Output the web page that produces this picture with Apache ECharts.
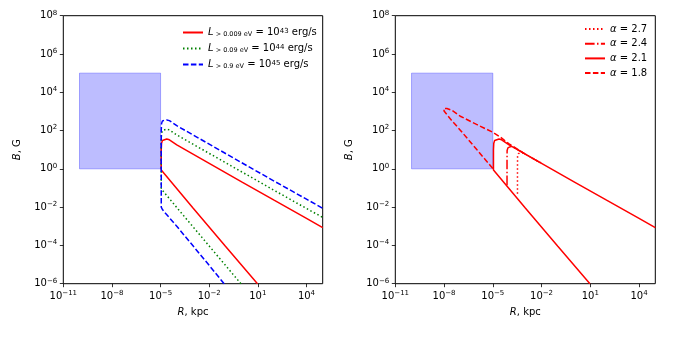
<!DOCTYPE html>
<html>
<head>
<meta charset="utf-8">
<script src="https://cdn.jsdelivr.net/npm/echarts@6/dist/echarts.min.js"></script>
<style>
  html, body { margin: 0; padding: 0; background: #fff; }
  #chart { width: 675px; height: 338px; }
</style>
</head>
<body>
<div id="chart"></div>
<script>
// tick positions
const xTicks = [1e-11, 1e-8, 1e-5, 1e-2, 1e1, 1e4];
const yTicks = [1e-6, 1e-4, 1e-2, 1e0, 1e2, 1e4, 1e6, 1e8];

// shaded region
const boxR = [1e-10, 1e-5];
const boxB = [1, 1e5];

// left panel: L > 0.009 eV = 1e43 erg/s
const rL43 = [9.5, 1e-1, 1e-3, 1.1e-5, 1.1e-5, 1.15e-5, 1.3e-5, 1.7e-5, 2.4e-5, 3.5e-5, 1e-4, 1e-3, 1e-2, 1, 100, 1e4, 1e5];
const bL43 = [1e-6, 9e-5, 9e-3, 0.88, 10, 22, 30, 35, 36, 33, 17.8, 5.9, 1.95, 0.21, 0.023, 2.6e-3, 8.5e-4];
// L > 0.09 eV = 1e44 erg/s
const rL44 = [0.9, 1e-2, 1e-4, 1.1e-5, 1.1e-5, 1.15e-5, 1.3e-5, 1.7e-5, 2.4e-5, 3.5e-5, 1e-4, 1e-3, 1e-2, 1, 100, 1e4, 1e5];
const bL44 = [1e-6, 9.3e-5, 9.5e-3, 0.09, 32, 72, 100, 115, 118, 108, 59, 19.5, 6.4, 0.7, 0.076, 8.5e-3, 2.9e-3];
// L > 0.9 eV = 1e45 erg/s
const rL45 = [0.083, 1e-2, 1e-3, 1e-4, 2e-5, 1.3e-5, 1.1e-5, 1.1e-5, 1.15e-5, 1.3e-5, 1.7e-5, 2.4e-5, 3.5e-5, 1e-4, 1e-3, 1e-2, 1, 100, 1e4, 1e5];
const bL45 = [1e-6, 9e-6, 9.5e-5, 1e-3, 4.8e-3, 7.5e-3, 1e-2, 100, 230, 320, 350, 360, 330, 180, 59, 19.5, 2.1, 0.23, 0.026, 8.7e-3];

// right panel: alpha = 2.7, 2.4, 2.1, 1.8
const rA27 = [3.3e-4, 3.3e-4, 3.35e-4, 3.8e-4, 5e-4, 7e-4, 1e-3, 1e-2];
const bA27 = [0.05, 1, 4.5, 6.3, 7, 6.8, 5.9, 1.95];
const rA24 = [7.5e-5, 7.5e-5, 7.6e-5, 8.5e-5, 1.2e-4, 1.9e-4, 1e-3, 1e-2];
const bA24 = [0.14, 3, 9, 12.5, 14.5, 13.5, 5.9, 1.95];
const rA21 = [9.5, 1e-1, 1e-3, 1.1e-5, 1.1e-5, 1.15e-5, 1.3e-5, 1.7e-5, 2.4e-5, 3.5e-5, 1e-4, 1e-3, 1e-2, 1, 100, 1e4, 1e5];
const bA21 = [1e-6, 9e-5, 9e-3, 0.88, 10, 22, 30, 35, 36, 33, 17.8, 5.9, 1.95, 0.21, 0.023, 2.6e-3, 8.5e-4];
const rA18 = [1e-5, 1e-6, 1e-7, 3e-8, 1.5e-8, 1e-8, 9e-9, 1e-8, 1.5e-8, 3e-8, 1e-7, 1e-6, 1e-5, 3e-5, 1e-4, 1e-3];
const bA18 = [1.05, 10.5, 105, 330, 680, 1050, 1300, 1450, 1420, 1150, 560, 210, 81, 45, 20, 5.9];

const leftNames = ['L43', 'L44', 'L45'];
const rightNames = ['a27', 'a24', 'a21', 'a18'];
const legendText = {
  L43: '{i|L}{sub| > 0.009 eV} = 10{sup|43} erg/s',
  L44: '{i|L}{sub| > 0.09 eV} = 10{sup|44} erg/s',
  L45: '{i|L}{sub| > 0.9 eV} = 10{sup|45} erg/s',
  a27: '{i|α} = 2.7',
  a24: '{i|α} = 2.4',
  a21: '{i|α} = 2.1',
  a18: '{i|α} = 1.8',
};

const FONT = 'DejaVu Sans';
const pts = (r, b) => r.map((v, i) => [v, b[i]]);
const DASHED = [5.5, 2.4];
const DOTTED = [1.5, 2.5];
const DASHDOT = [9.6, 2.4, 1.5, 2.4];

const supRich = {
  b: { fontSize: 10, fontFamily: FONT, color: '#000', lineHeight: 13 },
  s: { fontSize: 7, fontFamily: FONT, color: '#000', verticalAlign: 'top', lineHeight: 13 },
};
const powLabel = (v) => {
  const e = Math.round(Math.log10(v));
  return '{b|10}{s|' + String(e).replace('-', '\u2212') + '}';
};

const chart = echarts.init(document.getElementById('chart'), null, { renderer: 'canvas' });

const makeX = (gi) => ({
  type: 'log', logBase: 10, gridIndex: gi, min: 1e-11, max: 1e5,
  name: '{i|R}, kpc', nameLocation: 'middle', nameGap: 24,
  nameTextStyle: { fontFamily: FONT, fontSize: 10, color: '#000', rich: { i: { fontStyle: 'italic', fontFamily: FONT, fontSize: 10 } } },
  axisLine: { show: false },
  axisTick: { show: true, length: 3.5, customValues: xTicks, lineStyle: { color: '#000', width: 0.8 } },
  axisLabel: { customValues: xTicks, margin: 6, formatter: powLabel, rich: supRich },
  splitLine: { show: false }, minorTick: { show: false },
});
const makeY = (gi) => ({
  type: 'log', logBase: 10, gridIndex: gi, min: 1e-6, max: 1e8,
  name: '{i|B}, G', nameLocation: 'middle', nameGap: 41,
  nameTextStyle: { fontFamily: FONT, fontSize: 10, color: '#000', rich: { i: { fontStyle: 'italic', fontFamily: FONT, fontSize: 10 } } },
  axisLine: { show: false },
  axisTick: { show: true, length: 3.5, customValues: yTicks, lineStyle: { color: '#000', width: 0.8 } },
  axisLabel: { customValues: yTicks, margin: 6, formatter: powLabel, rich: supRich },
  splitLine: { show: false }, minorTick: { show: false },
});

const base = { type: 'line', symbol: 'none', showSymbol: false, animation: false, clip: true };
const box = {
  silent: true,
  label: { show: false },
  itemStyle: { color: 'rgba(0,0,255,0.26)', borderColor: 'rgba(0,0,255,0.3)', borderWidth: 1 },
  data: [[{ xAxis: boxR[0], yAxis: boxB[0] }, { xAxis: boxR[1], yAxis: boxB[1] }]],
};

const legendCommon = {
  orient: 'vertical', padding: 0, itemWidth: 20, itemHeight: 10,
  selectedMode: false,
  // hide the marker in the legend icon, keep the line
  itemStyle: { opacity: 0, color: 'transparent', borderWidth: 0 },
  formatter: (n) => legendText[n],
  textStyle: {
    fontFamily: FONT, fontSize: 10, color: '#000',
    rich: {
      i: { fontStyle: 'italic', fontFamily: FONT, fontSize: 10 },
      sub: { fontSize: 6.5, fontFamily: FONT, verticalAlign: 'bottom' },
      sup: { fontSize: 7, fontFamily: FONT, verticalAlign: 'top' },
    },
  },
};

chart.setOption({
  animation: false,
  grid: [
    { left: 63.3, top: 15.7, width: 259.4, height: 268, show: true, borderColor: '#000', borderWidth: 1, backgroundColor: 'transparent' },
    { left: 395.3, top: 15.7, width: 260, height: 268, show: true, borderColor: '#000', borderWidth: 1, backgroundColor: 'transparent' },
  ],
  xAxis: [makeX(0), makeX(1)],
  yAxis: [makeY(0), makeY(1)],
  legend: [
    Object.assign({}, legendCommon, { data: leftNames, left: 182, top: 27.5, itemGap: 6 }),
    Object.assign({}, legendCommon, { data: rightNames, left: 584, top: 24, itemGap: 4.7 }),
  ],
  series: [
    Object.assign({}, base, { name: 'L43', xAxisIndex: 0, yAxisIndex: 0, data: pts(rL43, bL43), color: 'red', lineStyle: { width: 1.5, color: 'red' }, markArea: box }),
    Object.assign({}, base, { name: 'L44', xAxisIndex: 0, yAxisIndex: 0, data: pts(rL44, bL44), color: 'green', lineStyle: { width: 1.5, color: 'green', type: DOTTED } }),
    Object.assign({}, base, { name: 'L45', xAxisIndex: 0, yAxisIndex: 0, data: pts(rL45, bL45), color: 'blue', lineStyle: { width: 1.5, color: 'blue', type: DASHED } }),
    Object.assign({}, base, { name: 'a27', xAxisIndex: 1, yAxisIndex: 1, data: pts(rA27, bA27), color: 'red', lineStyle: { width: 1.5, color: 'red', type: DOTTED }, markArea: box }),
    Object.assign({}, base, { name: 'a24', xAxisIndex: 1, yAxisIndex: 1, data: pts(rA24, bA24), color: 'red', lineStyle: { width: 1.5, color: 'red', type: DASHDOT } }),
    Object.assign({}, base, { name: 'a21', xAxisIndex: 1, yAxisIndex: 1, data: pts(rA21, bA21), color: 'red', lineStyle: { width: 1.5, color: 'red' } }),
    Object.assign({}, base, { name: 'a18', xAxisIndex: 1, yAxisIndex: 1, data: pts(rA18, bA18), color: 'red', lineStyle: { width: 1.5, color: 'red', type: DASHED } }),
  ],
});
window.addEventListener('resize', () => chart.resize());
</script>
</body>
</html>
